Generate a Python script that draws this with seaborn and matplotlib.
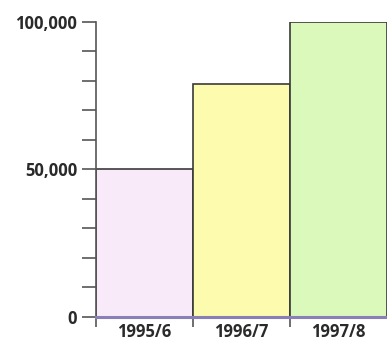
import matplotlib
matplotlib.use("Agg")
import matplotlib.pyplot as plt
from matplotlib.ticker import MultipleLocator, FixedLocator, NullFormatter
import seaborn as sns
import pandas as pd

seasons = ["1995/6", "1996/7", "1997/8"]
values = [50000, 79000, 100000]
bar_colors = ["#f9eaf9", "#fdfbae", "#daf9bb"]

sns.set_theme(style="white")
plt.rcParams["font.family"] = ["Open Sans", "DejaVu Sans"]

df = pd.DataFrame({"season": seasons, "value": values})

fig = plt.figure(figsize=(3.87, 3.41), dpi=100)
ax = fig.add_axes([0.248, 0.0704, 0.752, 0.8651])

sns.barplot(data=df, x="season", y="value", hue="season", palette=bar_colors,
            saturation=1, width=1.0, edgecolor="#3a3a3a", linewidth=1.2,
            legend=False, dodge=False, ax=ax)

ax.set_xlim(-0.5, 2.5)
ax.set_ylim(0, 100000)
ax.set_xlabel("")
ax.set_ylabel("")

# y axis: labelled every 50,000 with minor ticks every 10,000
ax.yaxis.set_major_locator(FixedLocator([0, 50000, 100000]))
ax.yaxis.set_minor_locator(MultipleLocator(10000))
ax.set_yticklabels(["0", "50,000", "100,000"])
ax.tick_params(axis="y", which="both", direction="out", length=10, width=1.2,
               color="#555555", left=True, pad=3.5)
ax.tick_params(axis="y", which="major", labelsize=12)
for lab in ax.get_yticklabels():
    lab.set_fontweight("bold")
    lab.set_color("#2a2a2a")

# x axis: ticks at bar boundaries, labels centred under bars
ax.xaxis.set_major_locator(FixedLocator([0, 1, 2]))
ax.set_xticklabels(seasons)
ax.xaxis.set_minor_locator(FixedLocator([-0.5, 0.5, 1.5]))
ax.xaxis.set_minor_formatter(NullFormatter())
ax.tick_params(axis="x", which="major", length=0, labelsize=12, pad=4)
ax.tick_params(axis="x", which="minor", direction="out", length=7, width=1.2,
               color="#555555", bottom=True)
for lab in ax.get_xticklabels():
    lab.set_fontweight("bold")
    lab.set_color("#2a2a2a")

for side in ["top", "right"]:
    ax.spines[side].set_visible(False)
ax.spines["left"].set_color("#555555")
ax.spines["left"].set_linewidth(1.2)
ax.spines["bottom"].set_color("#8a80b8")
ax.spines["bottom"].set_linewidth(2.2)
ax.spines["left"].set_zorder(5)
ax.spines["bottom"].set_zorder(5)

fig.savefig("out.png", dpi=100)
